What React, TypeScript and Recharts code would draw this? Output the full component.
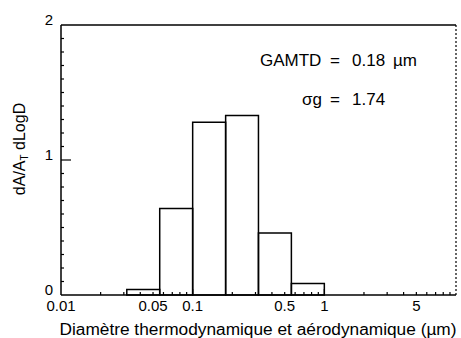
import React from 'react';
import {
  ComposedChart,
  XAxis,
  YAxis,
  Line,
  ReferenceArea,
  ReferenceLine,
  Customized,
} from 'recharts';

// Histogram bins (µm) and heights (dA/AT dLogD)
const binLower = [0.0316, 0.0562, 0.1, 0.178, 0.316, 0.562];
const binUpper = [0.0562, 0.1, 0.178, 0.316, 0.562, 1.0];
const binValues = [0.04, 0.64, 1.28, 1.33, 0.46, 0.085];

// Axis ticks
const xLabeledValues = [0.01, 0.05, 0.1, 0.5, 1, 5];
const xTickLabels = ['0.01', '0.05', '0.1', '0.5', '1', '5'];
const xMinorTicks = [
  0.01, 0.02, 0.03, 0.04, 0.05, 0.06, 0.07, 0.08, 0.09,
  0.1, 0.2, 0.3, 0.4, 0.5, 0.6, 0.7, 0.8, 0.9,
  1, 2, 3, 4, 5, 6, 7, 8, 9, 10,
];
const yTicks = [
  0, 0.1, 0.2, 0.3, 0.4, 0.5, 0.6, 0.7, 0.8, 0.9,
  1, 1.1, 1.2, 1.3, 1.4, 1.5, 1.6, 1.7, 1.8, 1.9, 2,
];
const yLabeledValues = [0, 1, 2];
const yTickLabels = ['0', '1', '2'];

const FONT = '"Liberation Sans", Arial, Helvetica, sans-serif';

const data = binLower.map((lo, i) => ({
  mid: Math.sqrt(lo * binUpper[i]),
  v: binValues[i],
}));

const near = (a: number, b: number) => Math.abs(a - b) <= Math.abs(b) * 1e-6 + 1e-9;

const XTick = (props: any) => {
  const { x, y, payload } = props;
  const v = payload.value;
  const idx = xLabeledValues.findIndex((t) => near(v, t));
  const major = near(v, 0.1) || near(v, 1);
  const len = major ? 6 : 3;
  const showLine = v > 0.0101 && v < 9.9;
  return (
    <g>
      {showLine && <line x1={x} x2={x} y1={y} y2={y - len} stroke="#000" strokeWidth={1.2} />}
      {idx >= 0 && (
        <text x={x} y={y + 16} textAnchor="middle" fontSize={15} fontFamily={FONT} fill="#000">
          {xTickLabels[idx]}
        </text>
      )}
    </g>
  );
};

const YTickLeft = (props: any) => {
  const { x, y, payload } = props;
  const v = payload.value;
  const idx = yLabeledValues.findIndex((t) => near(v, t));
  const len = near(v, 1) ? 10 : 3;
  const showLine = v > 0.01 && v < 1.99;
  return (
    <g>
      {showLine && <line x1={x} x2={x + len} y1={y} y2={y} stroke="#000" strokeWidth={1.2} />}
      {idx >= 0 && (
        <text x={x - 8} y={y} textAnchor="end" fontSize={15} fontFamily={FONT} fill="#000">
          {yTickLabels[idx]}
        </text>
      )}
    </g>
  );
};

const YTickRight = (props: any) => {
  const { x, y, payload } = props;
  const v = payload.value;
  const showLine = v > 0.01 && v < 1.99;
  return showLine ? <line x1={x} x2={x - 3} y1={y} y2={y} stroke="#000" strokeWidth={1.2} /> : <g />;
};

const Texts = () => (
  <g fontFamily={FONT} fill="#000">
    <text x={260} y={66} fontSize={17}>GAMTD</text>
    <text x={330} y={66} fontSize={17}>=</text>
    <text x={352} y={66} fontSize={17}>0.18</text>
    <text x={393} y={66} fontSize={17}>µm</text>
    <text x={302} y={105} fontSize={17}>σg</text>
    <text x={330} y={105} fontSize={17}>=</text>
    <text x={352} y={105} fontSize={17}>1.74</text>
    <text x={258} y={335} fontSize={17.3} textAnchor="middle">
      Diamètre thermodynamique et aérodynamique (µm)
    </text>
    <text x={25} y={149} fontSize={16} textAnchor="middle" transform="rotate(-90 25 149)">
      dA/A<tspan fontSize={10} dy={3}>T</tspan>
      <tspan dy={-3}> dLogD</tspan>
    </text>
  </g>
);

export default function App() {
  return (
    <div style={{ position: 'absolute', left: 0, top: 0, width: 461, height: 338, background: '#fff' }}>
      <ComposedChart
        width={461}
        height={338}
        data={data}
        margin={{ top: 25, right: 0, bottom: 0, left: 0 }}
      >
        <XAxis
          dataKey="mid"
          type="number"
          scale="log"
          domain={[0.01, 10]}
          allowDataOverflow
          ticks={xMinorTicks}
          interval={0}
          tick={<XTick />}
          tickLine={false}
          tickSize={0}
          tickMargin={0}
          height={43}
          axisLine={{ stroke: '#000', strokeWidth: 1.5 }}
        />
        <YAxis
          yAxisId="left"
          type="number"
          domain={[0, 2]}
          ticks={yTicks}
          interval={0}
          width={61}
          tick={<YTickLeft />}
          tickLine={false}
          tickSize={0}
          tickMargin={0}
          axisLine={{ stroke: '#000', strokeWidth: 1.5 }}
        />
        <YAxis
          yAxisId="right"
          orientation="right"
          type="number"
          domain={[0, 2]}
          ticks={yTicks}
          interval={0}
          width={5}
          tick={<YTickRight />}
          tickLine={false}
          tickSize={0}
          tickMargin={0}
          axisLine={{ stroke: '#000', strokeWidth: 1.2, strokeDasharray: '2 2' }}
        />
        <ReferenceLine yAxisId="left" y={2} stroke="#000" strokeWidth={1.5} />
        {binValues.map((v, i) => (
          <ReferenceArea
            key={i}
            yAxisId="left"
            x1={binLower[i]}
            x2={binUpper[i]}
            y1={0}
            y2={v}
            fill="none"
            fillOpacity={0}
            stroke="#000"
            strokeWidth={1.5}
            ifOverflow="visible"
          />
        ))}
        <Line
          yAxisId="left"
          dataKey="v"
          stroke="none"
          dot={false}
          activeDot={false}
          legendType="none"
          isAnimationActive={false}
        />
        <Customized component={Texts} />
      </ComposedChart>
    </div>
  );
}
